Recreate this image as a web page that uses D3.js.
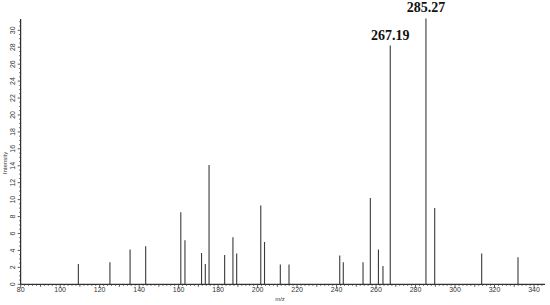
<!DOCTYPE html>
<html>
<head>
<meta charset="utf-8">
<script src="https://cdn.jsdelivr.net/npm/d3@7"></script>
<style>
  body { margin: 0; background: #fff; }
  svg { display: block; }
</style>
</head>
<body>
<div id="chart"></div>
<script>
// peak m/z values and their intensities
const mzValues = [109.2, 125.2, 135.4, 143.3, 161.1, 163.2, 171.6, 173.5, 175.4, 183.3, 187.5, 189.4,
                  201.6, 203.5, 211.5, 215.9, 241.6, 243.4, 253.4, 257.1, 261.2, 263.5, 267.19, 285.27,
                  289.7, 313.5, 331.9];
const intensities = [2.4, 2.6, 4.1, 4.5, 8.5, 5.2, 3.7, 2.4, 14.1, 3.45, 5.55, 3.65,
                     9.3, 5.0, 2.35, 2.35, 3.4, 2.6, 2.6, 10.2, 4.1, 2.15, 28.2, 31.4,
                     9.0, 3.65, 3.2];
const labelledPeaks = ["267.19", "285.27"];
const xTicks = [80, 100, 120, 140, 160, 180, 200, 220, 240, 260, 280, 300, 320, 340];
const yTicks = [0, 2, 4, 6, 8, 10, 12, 14, 16, 18, 20, 22, 24, 26, 28, 30];

const width = 550, height = 305;
const x0 = 20.7, y0 = 284.3;

const svg = d3.select("#chart").append("svg")
    .attr("width", width)
    .attr("height", height);

const x = d3.scaleLinear().domain([80, 340]).range([x0, 534]);
const y = d3.scaleLinear().domain([0, 30]).range([y0, 30.3]);

// axis lines
svg.append("line")
    .attr("x1", x0).attr("x2", 545)
    .attr("y1", y0).attr("y2", y0)
    .attr("stroke", "#000").attr("stroke-width", 1);
svg.append("line")
    .attr("x1", x0).attr("x2", x0)
    .attr("y1", y0).attr("y2", 19)
    .attr("stroke", "#000").attr("stroke-width", 1);

// x ticks: minor every 2, major every 20
const xMinor = d3.range(80, 345, 2);
svg.append("g").selectAll("line")
    .data(xMinor)
    .join("line")
    .attr("x1", d => x(d)).attr("x2", d => x(d))
    .attr("y1", y0)
    .attr("y2", d => y0 + (d % 20 === 0 ? 3.5 : (d % 10 === 0 ? 2.5 : 1.5)))
    .attr("stroke", "#333").attr("stroke-width", 0.8);

svg.append("g").selectAll("text")
    .data(xTicks)
    .join("text")
    .attr("x", d => x(d))
    .attr("y", 292)
    .attr("text-anchor", "middle")
    .style("font-family", "Arial, 'Liberation Sans', sans-serif")
    .style("font-size", "7px")
    .style("fill", "#333")
    .text(d => d);

// y ticks: minor every 0.5, major every 2
const yMinor = d3.range(0, 31.5, 0.5);
svg.append("g").selectAll("line")
    .data(yMinor)
    .join("line")
    .attr("x1", d => x0 - (d % 2 === 0 ? 3 : 1.5)).attr("x2", x0 + (0))
    .attr("y1", d => y(d)).attr("y2", d => y(d))
    .attr("stroke", "#333").attr("stroke-width", 0.8);

svg.append("g").selectAll("text")
    .data(yTicks)
    .join("text")
    .attr("transform", d => `translate(15,${y(d)}) rotate(-90)`)
    .attr("text-anchor", "middle")
    .style("font-family", "Arial, 'Liberation Sans', sans-serif")
    .style("font-size", "7px")
    .style("fill", "#333")
    .text(d => d);

// axis titles
svg.append("text")
    .attr("transform", "translate(7,163) rotate(-90)")
    .attr("text-anchor", "middle")
    .style("font-family", "Arial, 'Liberation Sans', sans-serif")
    .style("font-size", "6px")
    .style("fill", "#333")
    .text("Intensity");
svg.append("text")
    .attr("x", 280).attr("y", 301)
    .attr("text-anchor", "middle")
    .style("font-family", "Arial, 'Liberation Sans', sans-serif")
    .style("font-size", "6px")
    .style("fill", "#333")
    .text("m/z");

// peaks
const peaks = mzValues.map((m, i) => ({ mz: m, value: intensities[i] }));
svg.append("g").selectAll("line")
    .data(peaks)
    .join("line")
    .attr("x1", d => x(d.mz)).attr("x2", d => x(d.mz))
    .attr("y1", y0).attr("y2", d => y(d.value))
    .attr("stroke", "#3a3a3a").attr("stroke-width", 1.1);

// peak labels
svg.append("g").selectAll("text")
    .data(peaks.filter(d => labelledPeaks.includes(String(d.mz))))
    .join("text")
    .attr("x", d => x(d.mz))
    .attr("y", d => y(d.value) - 6)
    .attr("text-anchor", "middle")
    .style("font-family", "'Liberation Serif', 'Times New Roman', serif")
    .style("font-weight", "bold")
    .style("font-size", "14px")
    .style("fill", "#111")
    .text(d => d.mz.toFixed(2));
</script>
</body>
</html>
